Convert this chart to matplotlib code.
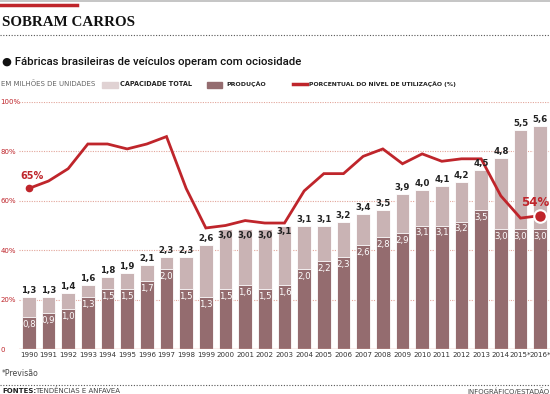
import matplotlib
matplotlib.use("Agg")
import matplotlib.pyplot as plt
from matplotlib.lines import Line2D
from matplotlib.patches import Rectangle
import numpy as np

years = ["1990", "1991", "1992", "1993", "1994", "1995", "1996", "1997", "1998", "1999",
         "2000", "2001", "2002", "2003", "2004", "2005", "2006", "2007", "2008", "2009",
         "2010", "2011", "2012", "2013", "2014", "2015*", "2016*"]
capacidade = [1.3, 1.3, 1.4, 1.6, 1.8, 1.9, 2.1, 2.3, 2.3, 2.6, 3.0, 3.0, 3.0, 3.1, 3.1, 3.1,
              3.2, 3.4, 3.5, 3.9, 4.0, 4.1, 4.2, 4.5, 4.8, 5.5, 5.6]
producao = [0.8, 0.9, 1.0, 1.3, 1.5, 1.5, 1.7, 2.0, 1.5, 1.3, 1.5, 1.6, 1.5, 1.6, 2.0, 2.2,
            2.3, 2.6, 2.8, 2.9, 3.1, 3.1, 3.2, 3.5, 3.0, 3.0, 3.0]
utilizacao = [65, 68, 73, 83, 83, 81, 83, 86, 65, 49, 50, 52, 51, 51, 64, 71, 71, 78, 81, 75,
              79, 76, 77, 77, 62, 53, 54]
yticks = [0, 20, 40, 60, 80, 100]
ytick_labels = ["0", "20%", "40%", "60%", "80%", "100%"]

C_CAP = "#c9b3b4"
C_PROD = "#946c6f"
C_RED = "#bf252b"
C_GRID = "#e2a59a"
NARROW = ["Liberation Sans Narrow", "DejaVu Sans"]

fig = plt.figure(figsize=(5.5, 3.94), dpi=100)
W, H = 550, 394

def fx(px):
    return px / W

def fy(py):
    return 1 - py / H

# header decorations
fig.add_artist(Line2D([0, 1], [fy(0.8), fy(0.8)], color="#bbbbbb", lw=1.2))
fig.add_artist(Line2D([0, fx(77)], [fy(5), fy(5)], color=C_RED, lw=2.5))
fig.text(fx(2), fy(22), "SOBRAM CARROS", family=["Liberation Serif", "DejaVu Serif"],
         weight="bold", fontsize=10.8, va="center", ha="left", color="#111111")
fig.add_artist(Line2D([0, 1], [fy(35), fy(35)], color="#555555", lw=0.8, ls=(0, (1, 1.5))))
fig.text(fx(2), fy(62), "\u25cf Fábricas brasileiras de veículos operam com ociosidade",
         fontsize=8.2, va="center", ha="left", color="#111111", family=["Roboto", "DejaVu Sans"],
         weight="medium")

# legend row
ly = fy(84)
fig.text(fx(1), ly, "EM MILHÕES DE UNIDADES", fontsize=5.0, color="#666666",
         va="center", ha="left", family=NARROW)
fig.add_artist(Rectangle((fx(102), fy(88)), fx(16), 6 / H, color="#e0d2d3",
                         transform=fig.transFigure))
fig.text(fx(120), ly, "CAPACIDADE TOTAL", fontsize=4.7, color="#222222", weight="bold",
         va="center", ha="left", family=NARROW)
fig.add_artist(Rectangle((fx(207), fy(88)), fx(15), 6 / H, color=C_PROD,
                         transform=fig.transFigure))
fig.text(fx(226), ly, "PRODUÇÃO", fontsize=4.5, color="#222222", weight="bold",
         va="center", ha="left", family=NARROW)
fig.add_artist(Line2D([fx(293), fx(307)], [ly, ly], color=C_RED, lw=2.5))
fig.text(fx(309), ly, "PORCENTUAL DO NÍVEL DE UTILIZAÇÃO (%)", fontsize=4.4, color="#222222",
         weight="bold", va="center", ha="left", family=NARROW)

# main axes
ax = fig.add_axes([fx(19), fy(349), fx(531), (349 - 102) / H])
x = np.arange(len(years))
ax.set_xlim(-0.5, len(years) - 0.5)
ax.set_ylim(0, 100)

scale = 100 / 6.2
cap_pct = [c * scale for c in capacidade]
prod_pct = [p * scale for p in producao]

for yv in yticks[1:]:
    ax.axhline(yv, color=C_GRID, lw=0.8, ls=(0, (1, 1.2)), zorder=0)
ax.axhline(0, color=C_GRID, lw=1.0, zorder=4)

ax.bar(x, cap_pct, width=0.68, color=C_CAP, edgecolor="white", linewidth=0.6, zorder=2)
ax.bar(x, prod_pct, width=0.68, color=C_PROD, edgecolor="white", linewidth=0.6, zorder=3)

inside = {10, 11, 12, 13}
for i in range(len(years)):
    c_lbl = f"{capacidade[i]:.1f}".replace(".", ",")
    p_lbl = f"{producao[i]:.1f}".replace(".", ",")
    if i in inside:
        ax.text(x[i], cap_pct[i] - 0.8, c_lbl, ha="center", va="top", fontsize=6.2,
                color="#222222", family=NARROW, weight="bold", zorder=6)
    else:
        ax.text(x[i], cap_pct[i] + 0.8, c_lbl, ha="center", va="bottom", fontsize=6.2,
                color="#222222", family=NARROW, weight="bold", zorder=6)
    ax.text(x[i], prod_pct[i] - 1.2, p_lbl, ha="center", va="top", fontsize=6.2,
            color="white", family=NARROW, zorder=6)

ax.plot(x, utilizacao, color=C_RED, lw=2.0, zorder=5, solid_joinstyle="miter", clip_on=False)
ax.plot([x[0]], [utilizacao[0]], "o", color=C_RED, ms=4.5, zorder=6, clip_on=False)
ax.plot([x[-1]], [utilizacao[-1]], "o", color=C_RED, ms=9, mec="white", mew=1.5,
        zorder=7, clip_on=False)
ax.text(x[0] - 0.45, utilizacao[0] + 3, f"{utilizacao[0]}%", color=C_RED, fontsize=7.0,
        weight="bold", ha="left", va="bottom", zorder=7)
ax.text(x[-1] + 0.45, utilizacao[-1] + 2.5, f"{utilizacao[-1]}%", color=C_RED, fontsize=8.5,
        weight="bold", ha="right", va="bottom", zorder=7)

ax.set_yticks(yticks)
ax.set_yticklabels(ytick_labels, fontsize=5.0, color=C_RED, family=NARROW)
for lab in ax.get_yticklabels():
    lab.set_horizontalalignment("left")
ax.set_xticks(x)
ax.set_xticklabels(years, fontsize=5.1, color="#333333", family=NARROW)
ax.tick_params(axis="x", length=0, pad=2)
ax.tick_params(axis="y", length=0, pad=13.2)
for s in ax.spines.values():
    s.set_visible(False)
ax.patch.set_alpha(0)

# footer
fig.text(fx(2), fy(373), "*Previsão", fontsize=5.6, color="#444444", va="center", ha="left",
         family=NARROW)
fig.add_artist(Line2D([0, 1], [fy(385), fy(385)], color="#555555", lw=0.8, ls=(0, (1, 1.5))))
fig.text(fx(2), fy(391), "FONTES:", fontsize=5.0, color="#222222", weight="bold",
         va="center", ha="left", family=NARROW)
fig.text(fx(35), fy(391), "TENDÊNCIAS E ANFAVEA", fontsize=5.0, color="#444444",
         va="center", ha="left", family=NARROW)
fig.text(fx(549), fy(391), "INFOGRÁFICO/ESTADÃO", fontsize=5.0, color="#444444",
         va="center", ha="right", family=NARROW)

fig.savefig("out.png", dpi=100)
